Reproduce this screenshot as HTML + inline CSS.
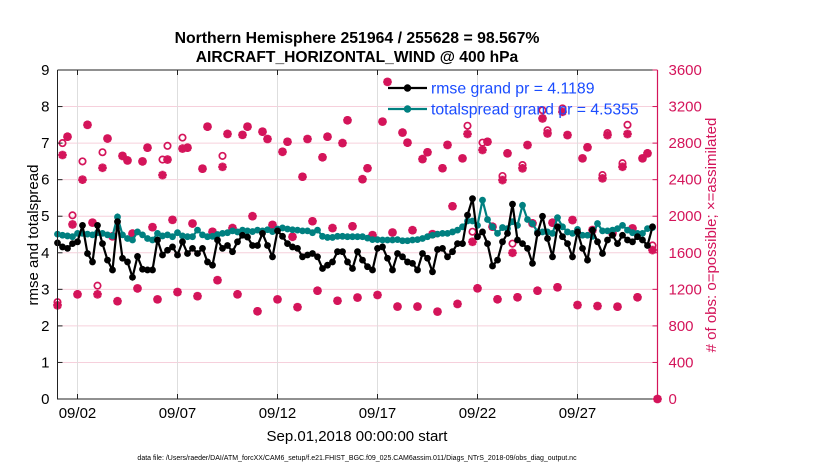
<!DOCTYPE html>
<html><head><meta charset="utf-8"><style>
html,body{margin:0;padding:0;background:#fff;}
svg{display:block;font-family:"Liberation Sans",sans-serif;}
</style></head><body>
<svg id="chart" width="830" height="470" viewBox="0 0 830 470">
<text x="357" y="43" text-anchor="middle" font-size="15.8" font-weight="bold">Northern Hemisphere 251964 / 255628 = 98.567%</text>
<text x="357" y="62" text-anchor="middle" font-size="15.6" font-weight="bold">AIRCRAFT_HORIZONTAL_WIND @ 400 hPa</text>
<g id="grid"></g>
<g id="obs"></g>
<g id="lines"></g>
<g id="axes"></g>
<text transform="translate(38,235) rotate(-90)" text-anchor="middle" font-size="15">rmse and totalspread</text>
<text transform="translate(716,235) rotate(-90)" text-anchor="middle" font-size="15" fill="#d4145a"># of obs: o=possible; ×=assimilated</text>
<text x="357" y="441" text-anchor="middle" font-size="15">Sep.01,2018 00:00:00 start</text>
<text x="357" y="460" text-anchor="middle" font-size="7">data file: /Users/raeder/DAI/ATM_forcXX/CAM6_setup/f.e21.FHIST_BGC.f09_025.CAM6assim.011/Diags_NTrS_2018-09/obs_diag_output.nc</text>
<g id="legend"></g>
</svg>
<script>
const leftTicks=[0,1,2,3,4,5,6,7,8,9];
const rightTicks=[0,400,800,1200,1600,2000,2400,2800,3200,3600];
const xTickDays=[1,6,11,16,21,26];
const xTickLabels=["09/02","09/07","09/12","09/17","09/22","09/27"];
const rmse=[4.27,4.16,4.12,4.25,4.3,4.75,3.98,3.75,4.75,4.25,3.8,3.53,4.85,3.85,3.75,3.33,3.9,3.55,3.53,3.53,4.35,3.94,4.07,4.16,3.94,4.3,3.98,4.12,3.98,4.12,3.75,
3.66,4.35,4.12,4.2,4.03,4.3,4.48,4.43,4.2,4.2,4.53,4.2,3.89,4.6,4.45,4.25,4.16,4.12,3.89,3.94,3.98,3.89,3.57,3.66,3.75,4.03,4.03,3.75,3.57,
4.03,3.8,3.62,3.53,4.12,4.16,3.85,3.53,3.98,3.89,3.75,3.71,3.53,3.98,3.85,3.48,4.09,4.12,3.89,4.03,4.25,4.25,5.03,5.48,4.44,4.57,4.25,3.64,3.8,4.3,4.53,
5.33,4.35,4.25,4.12,3.71,4.53,5.0,4.39,3.89,4.71,4.44,4.25,3.89,4.57,4.12,3.8,4.62,4.3,3.98,4.35,4.48,4.25,4.48,4.35,4.3,4.44,4.35,4.2,4.71];
const spread=[4.51,4.48,4.46,4.44,4.53,4.53,4.51,4.49,4.55,4.53,4.49,4.46,4.98,4.49,4.39,4.35,4.57,4.49,4.39,4.35,4.53,4.46,4.49,4.44,4.55,4.46,4.44,4.44,4.62,4.49,4.44,
4.45,4.5,4.53,4.55,4.6,4.57,4.62,4.6,4.58,4.62,4.6,4.63,4.58,4.65,4.68,4.65,4.63,4.62,4.6,4.6,4.55,4.62,4.45,4.42,4.42,4.45,4.45,4.44,4.44,
4.44,4.44,4.4,4.36,4.36,4.35,4.35,4.35,4.36,4.33,4.33,4.35,4.36,4.39,4.44,4.48,4.51,4.53,4.53,4.57,4.62,4.71,4.87,4.87,4.75,5.44,4.91,4.71,4.53,4.69,4.66,
4.85,4.75,5.3,4.91,4.8,4.57,4.57,4.57,4.53,4.96,4.71,4.57,4.53,4.64,4.48,4.48,4.45,4.8,4.6,4.6,4.62,4.66,4.75,4.62,4.55,4.53,4.53,4.66,4.69];
const assimilated=[1025,2670,2870,1910,1145,2400,3000,1930,1145,2530,2850,1780,1070,2660,2610,1810,1210,2600,2750,1880,1090,2450,2620,1960,1170,2740,2750,1920,1125,2520,2980,1830,1300,2540,2900,1870,1145,2890,2980,2000,960,
2925,2845,1905,1090,2705,2815,1775,1005,2432,2845,1945,1185,2645,2870,1870,1075,2800,3050,1890,1110,2405,2525,1793,1138,3035,3470,1822,1011,2915,2805,1847,1011,2625,2700,1804,956,2525,2780,2109,1040,
2633,2900,1720,1211,2725,2815,1885,1091,2396,2688,1600,1113,2524,2779,1922,1185,3070,2906,1929,1222,3143,2888,1958,1028,2633,2754,1849,1017,2414,2888,1813,1010,2541,2900,1867,1113,2633,2688,1630,0];
const possible=[1060,2800,2870,2010,1145,2600,3000,1930,1240,2700,2850,1780,1070,2660,2610,1810,1210,2600,2750,1880,1090,2620,2770,1960,1170,2860,2750,1920,1125,2520,2980,1830,1300,2660,2900,1870,1145,2890,2980,2000,960,
2925,2845,1905,1090,2705,2815,1775,1005,2432,2845,1945,1185,2645,2870,1870,1075,2800,3050,1890,1110,2405,2525,1793,1138,3035,3470,1822,1011,2915,2805,1847,1011,2625,2700,1804,956,2525,2780,2109,1040,
2633,2990,1830,1211,2805,2815,1885,1091,2440,2688,1700,1113,2560,2779,1922,1185,3160,2940,1929,1222,3180,2888,1958,1028,2633,2754,1849,1017,2450,2910,1813,1010,2580,3000,1867,1113,2633,2688,1680,0];

const NS="http://www.w3.org/2000/svg";
const X0=57.5,X1=657.5,Y0=399,Y1=70;
const xs=d=>X0+(X1-X0)*d/30;
const yL=v=>Y0-(Y0-Y1)*v/9;
const yR=v=>Y0-(Y0-Y1)*v/3600;
const dayOf=i=>i/4;
const PINK="#d4145a",TEAL="#008080";
function mk(tag,attrs,parent){const e=document.createElementNS(NS,tag);for(const k in attrs)e.setAttribute(k,attrs[k]);parent.appendChild(e);return e;}
const grid=document.getElementById('grid'),axes=document.getElementById('axes'),obs=document.getElementById('obs'),lines=document.getElementById('lines'),legend=document.getElementById('legend');

rightTicks.forEach((t,k)=>{ if(k===0||k===rightTicks.length-1)return;
  const l=mk('line',{x1:X0,x2:X1,y1:yR(t),y2:yR(t),stroke:"#f6d0dc","stroke-width":1},grid);
  
  
});
xTickDays.forEach(d=>{
  const l=mk('line',{x1:xs(d),x2:xs(d),y1:Y1,y2:Y0,stroke:"#dedede","stroke-width":1},grid);
  
  
});

function asterisk(cx,cy,g){
  const r=4.3,q=r*0.72;
  return mk('path',{d:`M${cx-r},${cy}H${cx+r}M${cx},${cy-r}V${cy+r}M${cx-q},${cy-q}L${cx+q},${cy+q}M${cx-q},${cy+q}L${cx+q},${cy-q}`,stroke:PINK,"stroke-width":2.6,fill:"none"},g);
}
possible.forEach((v,i)=>{
  const c=mk('circle',{cx:xs(dayOf(i)),cy:yR(v),r:3.2,fill:"none",stroke:PINK,"stroke-width":1.7},obs);
  
  
});
assimilated.forEach((v,i)=>{
  const p=asterisk(xs(dayOf(i)),yR(v),obs);
  
  
});

function series(arr,color,name){
  const pts=arr.map((v,i)=>`${xs(dayOf(i)).toFixed(2)},${yL(v).toFixed(2)}`).join(' ');
  const pl=mk('polyline',{points:pts,fill:"none",stroke:color,"stroke-width":2.2},lines);
  
  
  arr.forEach((v,i)=>{
    const c=mk('circle',{cx:xs(dayOf(i)),cy:yL(v),r:3.4,fill:color},lines);
    
    
  });
}
series(spread,TEAL,'totalspread');
series(rmse,"#000",'rmse');

const ab=mk('path',{d:`M${X0},${Y1}V${Y0}H${X1}M${X0},${Y1}H${X1}`,stroke:"#222","stroke-width":1,fill:"none"},axes);


const ar=mk('line',{x1:X1,x2:X1,y1:Y1,y2:Y0,stroke:PINK,"stroke-width":1.2},axes);


leftTicks.forEach(t=>{
  const y=yL(t);
  mk('line',{x1:X0,x2:X0+5,y1:y,y2:y,stroke:"#222"},axes);
  const tx=mk('text',{x:X0-8,y:y+5,"text-anchor":"end","font-size":15},axes);
  tx.textContent=t;
  
  
});
rightTicks.forEach(t=>{
  const y=yR(t);
  mk('line',{x1:X1-5,x2:X1,y1:y,y2:y,stroke:PINK},axes);
  const tx=mk('text',{x:X1+11,y:y+5,"font-size":15,fill:PINK},axes);
  tx.textContent=t;
  
  
});
xTickDays.forEach((d,k)=>{
  const x=xs(d);
  mk('line',{x1:x,x2:x,y1:Y0,y2:Y0-5,stroke:"#222"},axes);
  mk('line',{x1:x,x2:x,y1:Y1,y2:Y1+5,stroke:"#222"},axes);
  const tx=mk('text',{x:x,y:Y0+19,"text-anchor":"middle","font-size":15},axes);
  tx.textContent=xTickLabels[k];
  
  
});

[[rmse,"#000","rmse grand pr = 4.1189",88],[spread,TEAL,"totalspread grand pr = 4.5355",109]].forEach(e=>{
  const g=mk('g',{},legend);
  
  
  mk('line',{x1:388,x2:427,y1:e[3],y2:e[3],stroke:e[1],"stroke-width":2.2},g);
  mk('circle',{cx:407.5,cy:e[3],r:3.7,fill:e[1]},g);
  const t=mk('text',{x:431,y:e[3]+5.5,"font-size":15.8,fill:"#1a4cff"},g);
  t.textContent=e[2];
});
</script>
</body></html>
